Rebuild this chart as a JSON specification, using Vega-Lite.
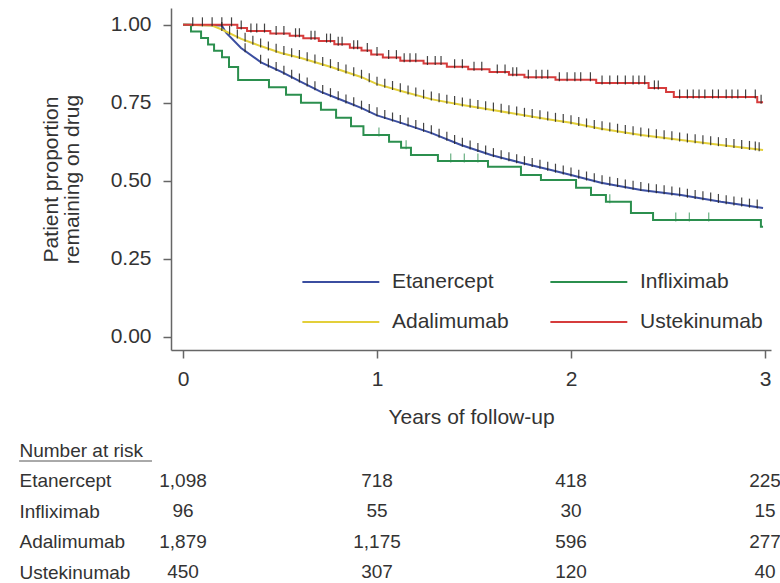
{
  "$schema": "https://vega.github.io/schema/vega-lite/v6.json",
  "background": "white",
  "padding": {"left": 18, "top": 8, "right": 0, "bottom": 0},
  "datasets": {
    "curves": [
      {"drug": "Etanercept", "t": 0, "s": 1.0},
      {"drug": "Etanercept", "t": 0.2, "s": 0.998},
      {"drug": "Etanercept", "t": 0.222, "s": 0.975},
      {"drug": "Etanercept", "t": 0.299, "s": 0.926},
      {"drug": "Etanercept", "t": 0.402, "s": 0.88},
      {"drug": "Etanercept", "t": 0.505, "s": 0.85},
      {"drug": "Etanercept", "t": 0.608, "s": 0.817},
      {"drug": "Etanercept", "t": 0.711, "s": 0.785},
      {"drug": "Etanercept", "t": 0.814, "s": 0.76},
      {"drug": "Etanercept", "t": 0.918, "s": 0.734},
      {"drug": "Etanercept", "t": 1.0, "s": 0.71},
      {"drug": "Etanercept", "t": 1.124, "s": 0.686},
      {"drug": "Etanercept", "t": 1.278, "s": 0.654},
      {"drug": "Etanercept", "t": 1.433, "s": 0.615},
      {"drug": "Etanercept", "t": 1.588, "s": 0.583},
      {"drug": "Etanercept", "t": 1.742, "s": 0.558},
      {"drug": "Etanercept", "t": 1.897, "s": 0.535},
      {"drug": "Etanercept", "t": 2.0, "s": 0.519},
      {"drug": "Etanercept", "t": 2.155, "s": 0.494},
      {"drug": "Etanercept", "t": 2.361, "s": 0.471},
      {"drug": "Etanercept", "t": 2.567, "s": 0.455},
      {"drug": "Etanercept", "t": 2.773, "s": 0.433},
      {"drug": "Etanercept", "t": 2.99, "s": 0.413},
      {"drug": "Adalimumab", "t": 0, "s": 1.0},
      {"drug": "Adalimumab", "t": 0.15, "s": 0.998},
      {"drug": "Adalimumab", "t": 0.2, "s": 0.985},
      {"drug": "Adalimumab", "t": 0.3, "s": 0.955},
      {"drug": "Adalimumab", "t": 0.4, "s": 0.932},
      {"drug": "Adalimumab", "t": 0.505, "s": 0.91},
      {"drug": "Adalimumab", "t": 0.608, "s": 0.894},
      {"drug": "Adalimumab", "t": 0.763, "s": 0.865},
      {"drug": "Adalimumab", "t": 0.918, "s": 0.833},
      {"drug": "Adalimumab", "t": 1.0, "s": 0.81},
      {"drug": "Adalimumab", "t": 1.124, "s": 0.788},
      {"drug": "Adalimumab", "t": 1.278, "s": 0.762},
      {"drug": "Adalimumab", "t": 1.433, "s": 0.744},
      {"drug": "Adalimumab", "t": 1.588, "s": 0.728},
      {"drug": "Adalimumab", "t": 1.742, "s": 0.712},
      {"drug": "Adalimumab", "t": 1.897, "s": 0.696},
      {"drug": "Adalimumab", "t": 2.0, "s": 0.686},
      {"drug": "Adalimumab", "t": 2.155, "s": 0.667},
      {"drug": "Adalimumab", "t": 2.361, "s": 0.647},
      {"drug": "Adalimumab", "t": 2.567, "s": 0.631},
      {"drug": "Adalimumab", "t": 2.773, "s": 0.615},
      {"drug": "Adalimumab", "t": 2.99, "s": 0.599},
      {"drug": "Infliximab", "t": 0, "s": 1.0},
      {"drug": "Infliximab", "t": 0.041, "s": 0.979},
      {"drug": "Infliximab", "t": 0.093, "s": 0.958},
      {"drug": "Infliximab", "t": 0.129, "s": 0.937},
      {"drug": "Infliximab", "t": 0.16, "s": 0.917},
      {"drug": "Infliximab", "t": 0.201, "s": 0.896},
      {"drug": "Infliximab", "t": 0.237, "s": 0.865},
      {"drug": "Infliximab", "t": 0.284, "s": 0.823},
      {"drug": "Infliximab", "t": 0.443, "s": 0.8},
      {"drug": "Infliximab", "t": 0.531, "s": 0.776},
      {"drug": "Infliximab", "t": 0.608, "s": 0.75},
      {"drug": "Infliximab", "t": 0.711, "s": 0.728},
      {"drug": "Infliximab", "t": 0.789, "s": 0.702},
      {"drug": "Infliximab", "t": 0.866, "s": 0.675},
      {"drug": "Infliximab", "t": 0.93, "s": 0.647},
      {"drug": "Infliximab", "t": 1.062, "s": 0.625},
      {"drug": "Infliximab", "t": 1.124, "s": 0.606},
      {"drug": "Infliximab", "t": 1.175, "s": 0.583},
      {"drug": "Infliximab", "t": 1.314, "s": 0.564},
      {"drug": "Infliximab", "t": 1.572, "s": 0.545},
      {"drug": "Infliximab", "t": 1.742, "s": 0.519},
      {"drug": "Infliximab", "t": 1.845, "s": 0.503},
      {"drug": "Infliximab", "t": 2.026, "s": 0.478},
      {"drug": "Infliximab", "t": 2.103, "s": 0.455},
      {"drug": "Infliximab", "t": 2.18, "s": 0.433},
      {"drug": "Infliximab", "t": 2.309, "s": 0.397},
      {"drug": "Infliximab", "t": 2.423, "s": 0.375},
      {"drug": "Infliximab", "t": 2.979, "s": 0.353},
      {"drug": "Infliximab", "t": 2.99, "s": 0.353},
      {"drug": "Ustekinumab", "t": 0, "s": 1.0},
      {"drug": "Ustekinumab", "t": 0.28, "s": 0.99},
      {"drug": "Ustekinumab", "t": 0.33, "s": 0.98},
      {"drug": "Ustekinumab", "t": 0.45, "s": 0.972},
      {"drug": "Ustekinumab", "t": 0.55, "s": 0.965},
      {"drug": "Ustekinumab", "t": 0.62, "s": 0.957},
      {"drug": "Ustekinumab", "t": 0.7, "s": 0.948},
      {"drug": "Ustekinumab", "t": 0.78, "s": 0.938},
      {"drug": "Ustekinumab", "t": 0.86, "s": 0.927},
      {"drug": "Ustekinumab", "t": 0.92, "s": 0.918},
      {"drug": "Ustekinumab", "t": 0.97, "s": 0.905},
      {"drug": "Ustekinumab", "t": 1.03, "s": 0.895},
      {"drug": "Ustekinumab", "t": 1.12, "s": 0.885},
      {"drug": "Ustekinumab", "t": 1.24, "s": 0.876},
      {"drug": "Ustekinumab", "t": 1.36, "s": 0.866},
      {"drug": "Ustekinumab", "t": 1.47, "s": 0.858},
      {"drug": "Ustekinumab", "t": 1.58, "s": 0.849},
      {"drug": "Ustekinumab", "t": 1.68, "s": 0.84},
      {"drug": "Ustekinumab", "t": 1.76, "s": 0.832},
      {"drug": "Ustekinumab", "t": 1.92, "s": 0.824},
      {"drug": "Ustekinumab", "t": 2.13, "s": 0.814},
      {"drug": "Ustekinumab", "t": 2.4, "s": 0.798},
      {"drug": "Ustekinumab", "t": 2.49, "s": 0.785},
      {"drug": "Ustekinumab", "t": 2.53, "s": 0.769},
      {"drug": "Ustekinumab", "t": 2.96, "s": 0.752},
      {"drug": "Ustekinumab", "t": 2.99, "s": 0.752}
    ],
    "censor": [
      {"drug": "Adalimumab", "t": 0.2, "s": 0.985},
      {"drug": "Adalimumab", "t": 0.24, "s": 0.973},
      {"drug": "Adalimumab", "t": 0.28, "s": 0.961},
      {"drug": "Adalimumab", "t": 0.32, "s": 0.951},
      {"drug": "Adalimumab", "t": 0.36, "s": 0.941},
      {"drug": "Adalimumab", "t": 0.4, "s": 0.932},
      {"drug": "Adalimumab", "t": 0.44, "s": 0.923},
      {"drug": "Adalimumab", "t": 0.48, "s": 0.915},
      {"drug": "Adalimumab", "t": 0.52, "s": 0.908},
      {"drug": "Adalimumab", "t": 0.56, "s": 0.901},
      {"drug": "Adalimumab", "t": 0.6, "s": 0.895},
      {"drug": "Adalimumab", "t": 0.64, "s": 0.888},
      {"drug": "Adalimumab", "t": 0.68, "s": 0.881},
      {"drug": "Adalimumab", "t": 0.72, "s": 0.873},
      {"drug": "Adalimumab", "t": 0.76, "s": 0.866},
      {"drug": "Adalimumab", "t": 0.8, "s": 0.857},
      {"drug": "Adalimumab", "t": 0.84, "s": 0.849},
      {"drug": "Adalimumab", "t": 0.88, "s": 0.84},
      {"drug": "Adalimumab", "t": 0.92, "s": 0.832},
      {"drug": "Adalimumab", "t": 0.96, "s": 0.821},
      {"drug": "Adalimumab", "t": 1.0, "s": 0.81},
      {"drug": "Adalimumab", "t": 1.04, "s": 0.803},
      {"drug": "Adalimumab", "t": 1.08, "s": 0.796},
      {"drug": "Adalimumab", "t": 1.12, "s": 0.789},
      {"drug": "Adalimumab", "t": 1.16, "s": 0.782},
      {"drug": "Adalimumab", "t": 1.2, "s": 0.775},
      {"drug": "Adalimumab", "t": 1.24, "s": 0.768},
      {"drug": "Adalimumab", "t": 1.28, "s": 0.762},
      {"drug": "Adalimumab", "t": 1.32, "s": 0.757},
      {"drug": "Adalimumab", "t": 1.36, "s": 0.752},
      {"drug": "Adalimumab", "t": 1.4, "s": 0.748},
      {"drug": "Adalimumab", "t": 1.44, "s": 0.743},
      {"drug": "Adalimumab", "t": 1.48, "s": 0.739},
      {"drug": "Adalimumab", "t": 1.52, "s": 0.735},
      {"drug": "Adalimumab", "t": 1.56, "s": 0.731},
      {"drug": "Adalimumab", "t": 1.6, "s": 0.727},
      {"drug": "Adalimumab", "t": 1.64, "s": 0.723},
      {"drug": "Adalimumab", "t": 1.68, "s": 0.718},
      {"drug": "Adalimumab", "t": 1.72, "s": 0.714},
      {"drug": "Adalimumab", "t": 1.76, "s": 0.71},
      {"drug": "Adalimumab", "t": 1.8, "s": 0.706},
      {"drug": "Adalimumab", "t": 1.84, "s": 0.702},
      {"drug": "Adalimumab", "t": 1.88, "s": 0.698},
      {"drug": "Adalimumab", "t": 1.92, "s": 0.694},
      {"drug": "Adalimumab", "t": 1.96, "s": 0.69},
      {"drug": "Adalimumab", "t": 2.0, "s": 0.686},
      {"drug": "Adalimumab", "t": 2.04, "s": 0.681},
      {"drug": "Adalimumab", "t": 2.08, "s": 0.676},
      {"drug": "Adalimumab", "t": 2.12, "s": 0.671},
      {"drug": "Adalimumab", "t": 2.16, "s": 0.667},
      {"drug": "Adalimumab", "t": 2.2, "s": 0.663},
      {"drug": "Adalimumab", "t": 2.24, "s": 0.659},
      {"drug": "Adalimumab", "t": 2.28, "s": 0.655},
      {"drug": "Adalimumab", "t": 2.32, "s": 0.651},
      {"drug": "Adalimumab", "t": 2.36, "s": 0.647},
      {"drug": "Adalimumab", "t": 2.4, "s": 0.644},
      {"drug": "Adalimumab", "t": 2.44, "s": 0.641},
      {"drug": "Adalimumab", "t": 2.48, "s": 0.638},
      {"drug": "Adalimumab", "t": 2.52, "s": 0.635},
      {"drug": "Adalimumab", "t": 2.56, "s": 0.631},
      {"drug": "Adalimumab", "t": 2.6, "s": 0.628},
      {"drug": "Adalimumab", "t": 2.64, "s": 0.625},
      {"drug": "Adalimumab", "t": 2.68, "s": 0.622},
      {"drug": "Adalimumab", "t": 2.72, "s": 0.619},
      {"drug": "Adalimumab", "t": 2.76, "s": 0.616},
      {"drug": "Adalimumab", "t": 2.8, "s": 0.613},
      {"drug": "Adalimumab", "t": 2.84, "s": 0.61},
      {"drug": "Adalimumab", "t": 2.88, "s": 0.607},
      {"drug": "Adalimumab", "t": 2.92, "s": 0.604},
      {"drug": "Adalimumab", "t": 2.95, "s": 0.602},
      {"drug": "Adalimumab", "t": 2.97, "s": 0.6},
      {"drug": "Etanercept", "t": 0.32, "s": 0.917},
      {"drug": "Etanercept", "t": 0.4, "s": 0.88},
      {"drug": "Etanercept", "t": 0.44, "s": 0.868},
      {"drug": "Etanercept", "t": 0.48, "s": 0.857},
      {"drug": "Etanercept", "t": 0.52, "s": 0.845},
      {"drug": "Etanercept", "t": 0.56, "s": 0.832},
      {"drug": "Etanercept", "t": 0.6, "s": 0.82},
      {"drug": "Etanercept", "t": 0.64, "s": 0.807},
      {"drug": "Etanercept", "t": 0.68, "s": 0.795},
      {"drug": "Etanercept", "t": 0.72, "s": 0.783},
      {"drug": "Etanercept", "t": 0.76, "s": 0.773},
      {"drug": "Etanercept", "t": 0.8, "s": 0.763},
      {"drug": "Etanercept", "t": 0.84, "s": 0.753},
      {"drug": "Etanercept", "t": 0.88, "s": 0.744},
      {"drug": "Etanercept", "t": 0.92, "s": 0.733},
      {"drug": "Etanercept", "t": 0.96, "s": 0.722},
      {"drug": "Etanercept", "t": 1.0, "s": 0.712},
      {"drug": "Etanercept", "t": 1.04, "s": 0.703},
      {"drug": "Etanercept", "t": 1.08, "s": 0.695},
      {"drug": "Etanercept", "t": 1.12, "s": 0.687},
      {"drug": "Etanercept", "t": 1.16, "s": 0.679},
      {"drug": "Etanercept", "t": 1.2, "s": 0.671},
      {"drug": "Etanercept", "t": 1.24, "s": 0.662},
      {"drug": "Etanercept", "t": 1.28, "s": 0.654},
      {"drug": "Etanercept", "t": 1.32, "s": 0.643},
      {"drug": "Etanercept", "t": 1.36, "s": 0.633},
      {"drug": "Etanercept", "t": 1.4, "s": 0.623},
      {"drug": "Etanercept", "t": 1.44, "s": 0.614},
      {"drug": "Etanercept", "t": 1.48, "s": 0.605},
      {"drug": "Etanercept", "t": 1.52, "s": 0.597},
      {"drug": "Etanercept", "t": 1.56, "s": 0.589},
      {"drug": "Etanercept", "t": 1.6, "s": 0.581},
      {"drug": "Etanercept", "t": 1.64, "s": 0.574},
      {"drug": "Etanercept", "t": 1.68, "s": 0.568},
      {"drug": "Etanercept", "t": 1.72, "s": 0.561},
      {"drug": "Etanercept", "t": 1.76, "s": 0.555},
      {"drug": "Etanercept", "t": 1.8, "s": 0.549},
      {"drug": "Etanercept", "t": 1.84, "s": 0.544},
      {"drug": "Etanercept", "t": 1.88, "s": 0.537},
      {"drug": "Etanercept", "t": 1.92, "s": 0.531},
      {"drug": "Etanercept", "t": 1.96, "s": 0.525},
      {"drug": "Etanercept", "t": 2.0, "s": 0.519},
      {"drug": "Etanercept", "t": 2.04, "s": 0.512},
      {"drug": "Etanercept", "t": 2.08, "s": 0.506},
      {"drug": "Etanercept", "t": 2.12, "s": 0.5},
      {"drug": "Etanercept", "t": 2.16, "s": 0.494},
      {"drug": "Etanercept", "t": 2.2, "s": 0.489},
      {"drug": "Etanercept", "t": 2.24, "s": 0.485},
      {"drug": "Etanercept", "t": 2.28, "s": 0.48},
      {"drug": "Etanercept", "t": 2.32, "s": 0.476},
      {"drug": "Etanercept", "t": 2.36, "s": 0.472},
      {"drug": "Etanercept", "t": 2.4, "s": 0.468},
      {"drug": "Etanercept", "t": 2.44, "s": 0.465},
      {"drug": "Etanercept", "t": 2.48, "s": 0.462},
      {"drug": "Etanercept", "t": 2.52, "s": 0.458},
      {"drug": "Etanercept", "t": 2.56, "s": 0.455},
      {"drug": "Etanercept", "t": 2.6, "s": 0.451},
      {"drug": "Etanercept", "t": 2.64, "s": 0.447},
      {"drug": "Etanercept", "t": 2.68, "s": 0.443},
      {"drug": "Etanercept", "t": 2.72, "s": 0.439},
      {"drug": "Etanercept", "t": 2.76, "s": 0.434},
      {"drug": "Etanercept", "t": 2.8, "s": 0.43},
      {"drug": "Etanercept", "t": 2.84, "s": 0.426},
      {"drug": "Etanercept", "t": 2.88, "s": 0.423},
      {"drug": "Etanercept", "t": 2.92, "s": 0.419},
      {"drug": "Etanercept", "t": 2.96, "s": 0.416},
      {"drug": "Ustekinumab", "t": 0.05, "s": 1.0},
      {"drug": "Ustekinumab", "t": 0.1, "s": 1.0},
      {"drug": "Ustekinumab", "t": 0.15, "s": 1.0},
      {"drug": "Ustekinumab", "t": 0.2, "s": 1.0},
      {"drug": "Ustekinumab", "t": 0.25, "s": 1.0},
      {"drug": "Ustekinumab", "t": 0.3, "s": 0.99},
      {"drug": "Ustekinumab", "t": 0.35, "s": 0.98},
      {"drug": "Ustekinumab", "t": 0.38, "s": 0.98},
      {"drug": "Ustekinumab", "t": 0.42, "s": 0.98},
      {"drug": "Ustekinumab", "t": 0.48, "s": 0.972},
      {"drug": "Ustekinumab", "t": 0.52, "s": 0.972},
      {"drug": "Ustekinumab", "t": 0.58, "s": 0.965},
      {"drug": "Ustekinumab", "t": 0.6, "s": 0.965},
      {"drug": "Ustekinumab", "t": 0.66, "s": 0.957},
      {"drug": "Ustekinumab", "t": 0.68, "s": 0.957},
      {"drug": "Ustekinumab", "t": 0.74, "s": 0.948},
      {"drug": "Ustekinumab", "t": 0.76, "s": 0.948},
      {"drug": "Ustekinumab", "t": 0.8, "s": 0.938},
      {"drug": "Ustekinumab", "t": 0.82, "s": 0.938},
      {"drug": "Ustekinumab", "t": 0.88, "s": 0.927},
      {"drug": "Ustekinumab", "t": 0.9, "s": 0.927},
      {"drug": "Ustekinumab", "t": 0.95, "s": 0.918},
      {"drug": "Ustekinumab", "t": 1.0, "s": 0.905},
      {"drug": "Ustekinumab", "t": 1.06, "s": 0.895},
      {"drug": "Ustekinumab", "t": 1.1, "s": 0.895},
      {"drug": "Ustekinumab", "t": 1.14, "s": 0.885},
      {"drug": "Ustekinumab", "t": 1.17, "s": 0.885},
      {"drug": "Ustekinumab", "t": 1.2, "s": 0.885},
      {"drug": "Ustekinumab", "t": 1.26, "s": 0.876},
      {"drug": "Ustekinumab", "t": 1.3, "s": 0.876},
      {"drug": "Ustekinumab", "t": 1.33, "s": 0.876},
      {"drug": "Ustekinumab", "t": 1.4, "s": 0.866},
      {"drug": "Ustekinumab", "t": 1.44, "s": 0.866},
      {"drug": "Ustekinumab", "t": 1.5, "s": 0.858},
      {"drug": "Ustekinumab", "t": 1.54, "s": 0.858},
      {"drug": "Ustekinumab", "t": 1.62, "s": 0.849},
      {"drug": "Ustekinumab", "t": 1.66, "s": 0.849},
      {"drug": "Ustekinumab", "t": 1.7, "s": 0.84},
      {"drug": "Ustekinumab", "t": 1.72, "s": 0.84},
      {"drug": "Ustekinumab", "t": 1.78, "s": 0.832},
      {"drug": "Ustekinumab", "t": 1.82, "s": 0.832},
      {"drug": "Ustekinumab", "t": 1.85, "s": 0.832},
      {"drug": "Ustekinumab", "t": 1.88, "s": 0.832},
      {"drug": "Ustekinumab", "t": 1.94, "s": 0.824},
      {"drug": "Ustekinumab", "t": 1.98, "s": 0.824},
      {"drug": "Ustekinumab", "t": 2.02, "s": 0.824},
      {"drug": "Ustekinumab", "t": 2.05, "s": 0.824},
      {"drug": "Ustekinumab", "t": 2.1, "s": 0.824},
      {"drug": "Ustekinumab", "t": 2.16, "s": 0.814},
      {"drug": "Ustekinumab", "t": 2.2, "s": 0.814},
      {"drug": "Ustekinumab", "t": 2.24, "s": 0.814},
      {"drug": "Ustekinumab", "t": 2.28, "s": 0.814},
      {"drug": "Ustekinumab", "t": 2.32, "s": 0.814},
      {"drug": "Ustekinumab", "t": 2.35, "s": 0.814},
      {"drug": "Ustekinumab", "t": 2.38, "s": 0.814},
      {"drug": "Ustekinumab", "t": 2.43, "s": 0.798},
      {"drug": "Ustekinumab", "t": 2.45, "s": 0.798},
      {"drug": "Ustekinumab", "t": 2.56, "s": 0.769},
      {"drug": "Ustekinumab", "t": 2.6, "s": 0.769},
      {"drug": "Ustekinumab", "t": 2.63, "s": 0.769},
      {"drug": "Ustekinumab", "t": 2.66, "s": 0.769},
      {"drug": "Ustekinumab", "t": 2.69, "s": 0.769},
      {"drug": "Ustekinumab", "t": 2.73, "s": 0.769},
      {"drug": "Ustekinumab", "t": 2.76, "s": 0.769},
      {"drug": "Ustekinumab", "t": 2.8, "s": 0.769},
      {"drug": "Ustekinumab", "t": 2.83, "s": 0.769},
      {"drug": "Ustekinumab", "t": 2.86, "s": 0.769},
      {"drug": "Ustekinumab", "t": 2.9, "s": 0.769},
      {"drug": "Ustekinumab", "t": 2.95, "s": 0.769},
      {"drug": "Ustekinumab", "t": 2.98, "s": 0.752},
      {"drug": "Infliximab", "t": 1.01, "s": 0.647},
      {"drug": "Infliximab", "t": 1.15, "s": 0.606},
      {"drug": "Infliximab", "t": 1.38, "s": 0.564},
      {"drug": "Infliximab", "t": 1.45, "s": 0.564},
      {"drug": "Infliximab", "t": 1.52, "s": 0.564},
      {"drug": "Infliximab", "t": 2.2, "s": 0.433},
      {"drug": "Infliximab", "t": 2.54, "s": 0.375},
      {"drug": "Infliximab", "t": 2.61, "s": 0.375},
      {"drug": "Infliximab", "t": 2.71, "s": 0.375}
    ],
    "risk": [
      {"drug": "Etanercept", "t": 0, "n": 1098},
      {"drug": "Etanercept", "t": 1, "n": 718},
      {"drug": "Etanercept", "t": 2, "n": 418},
      {"drug": "Etanercept", "t": 3, "n": 225},
      {"drug": "Infliximab", "t": 0, "n": 96},
      {"drug": "Infliximab", "t": 1, "n": 55},
      {"drug": "Infliximab", "t": 2, "n": 30},
      {"drug": "Infliximab", "t": 3, "n": 15},
      {"drug": "Adalimumab", "t": 0, "n": 1879},
      {"drug": "Adalimumab", "t": 1, "n": 1175},
      {"drug": "Adalimumab", "t": 2, "n": 596},
      {"drug": "Adalimumab", "t": 3, "n": 277},
      {"drug": "Ustekinumab", "t": 0, "n": 450},
      {"drug": "Ustekinumab", "t": 1, "n": 307},
      {"drug": "Ustekinumab", "t": 2, "n": 120},
      {"drug": "Ustekinumab", "t": 3, "n": 40}
    ]
  },
  "vconcat": [
    {
      "width": 600,
      "height": 342,
      "encoding": {
        "x": {"field": "t", "type": "quantitative",
          "scale": {"domain": [-0.062, 3.031], "nice": false, "zero": false},
          "axis": {"values": [0, 1, 2, 3], "format": "d", "title": "Years of follow-up",
            "labelFontSize": 21, "titleFontSize": 21, "tickSize": 8, "labelPadding": 10,
            "titlePadding": 17, "labelFlush": false}},
        "y": {"field": "s", "type": "quantitative",
          "scale": {"domain": [-0.042, 1.054], "nice": false, "zero": false},
          "axis": {"values": [0, 0.25, 0.5, 0.75, 1], "format": ".2f",
            "title": ["Patient proportion", "remaining on drug"],
            "labelFontSize": 21, "titleFontSize": 21, "titleLineHeight": 21,
            "tickSize": 8, "labelPadding": 12, "titlePadding": 28}}
      },
      "layer": [
        {
          "data": {"name": "curves"},
          "transform": [{"filter": "datum.drug === 'Etanercept' || datum.drug === 'Adalimumab'"}],
          "mark": {"type": "line", "strokeWidth": 2, "interpolate": "linear"},
          "encoding": {
            "color": {"field": "drug", "type": "nominal",
              "scale": {"domain": ["Etanercept", "Adalimumab", "Infliximab", "Ustekinumab"],
                "range": ["#3b4ea0", "#e3cf3a", "#2b8f4e", "#d63c3c"]},
              "legend": {"title": null, "orient": "none", "legendX": 130, "legendY": 263,
                "columns": 2, "columnPadding": 37, "rowPadding": 19,
                "symbolType": "M-1,0H7", "symbolSize": 370, "symbolStrokeWidth": 2,
                "labelFontSize": 21, "labelOffset": 69, "labelColor": "#333", "padding": 0}}
          }
        },
        {
          "data": {"name": "curves"},
          "transform": [{"filter": "datum.drug === 'Infliximab' || datum.drug === 'Ustekinumab'"}],
          "mark": {"type": "line", "strokeWidth": 2, "interpolate": "step-after"},
          "encoding": {
            "color": {"field": "drug", "type": "nominal"}
          }
        },
        {
          "data": {"name": "censor"},
          "transform": [{"filter": "datum.drug !== 'Infliximab'"}],
          "mark": {"type": "tick", "orient": "vertical", "size": 9, "thickness": 1.2, "color": "#222", "opacity": 0.85, "yOffset": -3}
        },
        {
          "data": {"name": "censor"},
          "transform": [{"filter": "datum.drug === 'Infliximab'"}],
          "mark": {"type": "tick", "orient": "vertical", "size": 9, "thickness": 1.2, "color": "#2b8f4e", "yOffset": -3}
        }
      ]
    },
    {
      "width": 600,
      "height": 122,
      "layer": [
        {
          "data": {"name": "risk"},
          "mark": {"type": "text", "fontSize": 19, "color": "#333", "align": "center", "baseline": "middle"},
          "encoding": {
            "x": {"field": "t", "type": "quantitative",
              "scale": {"domain": [-0.062, 3.031], "nice": false, "zero": false}, "axis": null},
            "y": {"field": "drug", "type": "ordinal",
              "scale": {"type": "point", "domain": ["Number at risk", "Etanercept", "Infliximab", "Adalimumab", "Ustekinumab"], "padding": 0},
              "axis": {"title": null, "domain": false, "ticks": false, "tickSize": 0,
                "labelAlign": "left", "labelPadding": 152, "labelFontSize": 19,
                "labelColor": "#333", "labelBaseline": "middle"}},
            "text": {"field": "n", "type": "quantitative", "format": ","}
          }
        },
        {
          "data": {"values": [{"label": "Number at risk", "from": -0.845, "to": -0.16}]},
          "mark": {"type": "rule", "color": "#555", "strokeWidth": 1, "yOffset": 11},
          "encoding": {
            "x": {"field": "from", "type": "quantitative"},
            "x2": {"field": "to"},
            "y": {"field": "label", "type": "ordinal"}
          }
        }
      ]
    }
  ],
  "spacing": 100,
  "bounds": "flush",
  "resolve": {"scale": {"x": "independent", "y": "independent", "color": "independent"}},
  "config": {
    "font": "Liberation Sans",
    "view": {"stroke": null},
    "axis": {"grid": false, "domainColor": "#666", "tickColor": "#666", "domainWidth": 1.5, "tickWidth": 1.5,
      "labelColor": "#333", "titleColor": "#333", "titleFontWeight": "normal",
      "labelFont": "Liberation Sans", "titleFont": "Liberation Sans"},
    "legend": {"labelFont": "Liberation Sans"},
    "text": {"font": "Liberation Sans"}
  }
}
